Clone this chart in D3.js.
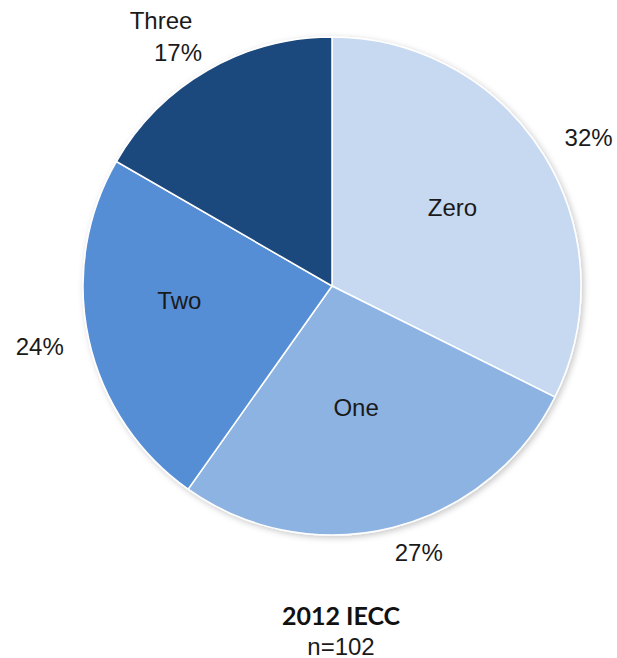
<!DOCTYPE html>
<html>
<head>
<meta charset="utf-8">
<script src="https://cdn.jsdelivr.net/npm/d3@7"></script>
<style>
  html, body { margin: 0; padding: 0; background: #fff; }
  svg { display: block; }
</style>
</head>
<body>
<div id="chart"></div>
<script>
// 2012 IECC pie - counts out of n=102

const categories = ['Zero', 'One', 'Two', 'Three'];
const counts = [33, 28, 24, 17];
const percentLabels = ['32%', '27%', '24%', '17%'];
const sliceColors = ['#c6d9f1', '#8db3e2', '#558ed5', '#1f497d'];
const titleText = '2012 IECC';
const subtitleText = 'n=102';

const width = 617;
const height = 658;
const cx = 332, cy = 286, radius = 249;

// label nudges (px) so the labels sit like Excel put them
const nameNudge = [[-2, -3], [-11, -18], [-12, -16], [-26, -14]];
const pctNudge = [[10, 4], [16, -15], [-9, -2], [-9, 18]];

const svg = d3.select('#chart').append('svg')
    .attr('width', width)
    .attr('height', height);

const defs = svg.append('defs');
const shadow = defs.append('filter')
    .attr('id', 'shadow')
    .attr('x', '-10%').attr('y', '-10%')
    .attr('width', '120%').attr('height', '120%');
shadow.append('feDropShadow')
    .attr('dx', 2).attr('dy', 2)
    .attr('stdDeviation', 3)
    .attr('flood-color', '#000')
    .attr('flood-opacity', 0.22);

const pie = d3.pie().sort(null).value(d => d);
const arcs = pie(counts);

const arc = d3.arc().innerRadius(0).outerRadius(radius);
const innerLabelArc = d3.arc().innerRadius(144).outerRadius(144);
const outerLabelArc = d3.arc().innerRadius(290).outerRadius(290);

const g = svg.append('g').attr('transform', `translate(${cx},${cy})`);

g.append('g')
    .attr('filter', 'url(#shadow)')
    .selectAll('path')
    .data(arcs)
    .enter()
    .append('path')
    .attr('d', arc)
    .attr('fill', (d, i) => sliceColors[i])
    .attr('stroke', '#fff')
    .attr('stroke-width', 1.5);

const labelFont = '"Liberation Sans", Arial, sans-serif';

// percent labels outside
g.selectAll('text.pct')
    .data(arcs)
    .enter()
    .append('text')
    .attr('class', 'pct')
    .attr('x', (d, i) => outerLabelArc.centroid(d)[0] + pctNudge[i][0])
    .attr('y', (d, i) => outerLabelArc.centroid(d)[1] + pctNudge[i][1])
    .attr('text-anchor', 'middle')
    .attr('dominant-baseline', 'central')
    .style('font-family', labelFont)
    .style('font-size', '24px')
    .style('fill', '#1a1a1a')
    .text((d, i) => percentLabels[i]);

// category names: inside for the first three, outside (above its %) for Three
g.selectAll('text.name')
    .data(arcs)
    .enter()
    .append('text')
    .attr('class', 'name')
    .attr('x', (d, i) => (i === 3 ? outerLabelArc : innerLabelArc).centroid(d)[0] + nameNudge[i][0])
    .attr('y', (d, i) => (i === 3 ? outerLabelArc : innerLabelArc).centroid(d)[1] + nameNudge[i][1])
    .attr('text-anchor', 'middle')
    .attr('dominant-baseline', 'central')
    .style('font-family', labelFont)
    .style('font-size', '24px')
    .style('fill', '#1a1a1a')
    .text((d, i) => categories[i]);

svg.append('text')
    .attr('x', 341)
    .attr('y', 615)
    .attr('text-anchor', 'middle')
    .attr('dominant-baseline', 'central')
    .style('font-family', 'Lato, "Open Sans", sans-serif')
    .style('font-weight', 'bold')
    .style('font-size', '25px')
    .style('fill', '#111')
    .text(titleText);

svg.append('text')
    .attr('x', 341)
    .attr('y', 646)
    .attr('text-anchor', 'middle')
    .attr('dominant-baseline', 'central')
    .style('font-family', labelFont)
    .style('font-size', '24px')
    .style('fill', '#1a1a1a')
    .text(subtitleText);
</script>
</body>
</html>
